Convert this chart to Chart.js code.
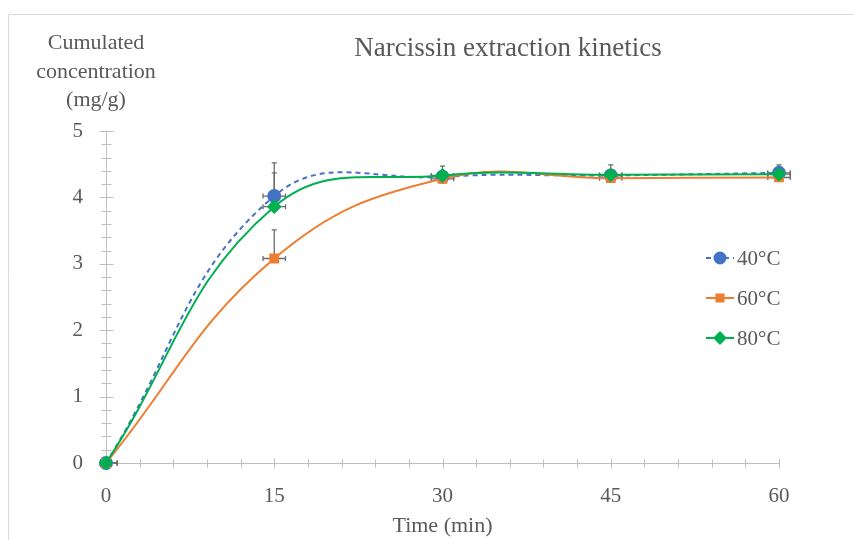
<!DOCTYPE html>
<html>
<head>
<meta charset="utf-8">
<script src="https://cdn.jsdelivr.net/npm/chart.js@4/dist/chart.umd.min.js"></script>
<style>
  body { margin: 0; background: #fff; }
</style>
</head>
<body>
<canvas id="chartKinetics" width="854" height="540"></canvas>
<script>
// data
const times = [0, 15, 30, 45, 60];
const conc40 = [0, 4.02, 4.31, 4.33, 4.37];
const conc60 = [0, 3.08, 4.28, 4.29, 4.30];
const conc80 = [0, 3.86, 4.33, 4.34, 4.35];
// error bars: y only upwards, x symmetric (min)
const err40 = [0, 0.50, 0.16, 0.16, 0.12];
const err60 = [0, 0.43, 0, 0, 0];
const err80 = [0, 0.51, 0, 0, 0];
const timeErr = [1, 1, 1, 1, 1];
const seriesLabels = ["40°C", "60°C", "80°C"];
const yTicks = [0, 1, 2, 3, 4, 5];
const xTicks = [0, 15, 30, 45, 60];
const chartTitle = "Narcissin extraction kinetics";
const yTitleLines = ["Cumulated", "concentration", "(mg/g)"];
const xTitle = "Time (min)";

const FONT = "'Liberation Serif', serif";
const TEXT = "#595959";
const AXIS = "#bfbfbf";

function pts(vals) {
  return times.map((t, i) => ({ x: t, y: vals[i] }));
}

const errorSets = [err40, err60, err80];

const errorBars = {
  id: 'errorBars',
  beforeDatasetsDraw(chart) {
    const { ctx, chartArea, scales } = chart;
    ctx.save();
    // only cut what falls left of the y axis
    ctx.beginPath();
    ctx.rect(chartArea.left, 0, chart.width - chartArea.left, chart.height);
    ctx.clip();
    ctx.strokeStyle = "#6b6b6b";
    ctx.lineWidth = 1.3;
    const cap = 2.5;
    chart.data.datasets.forEach((ds, d) => {
      const errs = errorSets[d];
      ds.data.forEach((p, i) => {
        const x = scales.x.getPixelForValue(p.x);
        const y = scales.y.getPixelForValue(p.y);
        const xl = scales.x.getPixelForValue(p.x - timeErr[i]);
        const xr = scales.x.getPixelForValue(p.x + timeErr[i]);
        ctx.beginPath();
        ctx.moveTo(xl, y); ctx.lineTo(xr, y);
        ctx.moveTo(xl, y - cap); ctx.lineTo(xl, y + cap);
        ctx.moveTo(xr, y - cap); ctx.lineTo(xr, y + cap);
        if (errs[i] > 0) {
          const yt = scales.y.getPixelForValue(p.y + errs[i]);
          ctx.moveTo(x, y); ctx.lineTo(x, yt);
          ctx.moveTo(x - cap, yt); ctx.lineTo(x + cap, yt);
        }
        ctx.stroke();
      });
    });
    ctx.restore();
  }
};

// tick marks crossing the axes, plus texts and legend
const decorations = {
  id: 'decorations',
  beforeDraw(chart) {
    const ctx = chart.ctx;
    ctx.save();
    ctx.strokeStyle = "#d9d9d9";
    ctx.lineWidth = 1;
    ctx.beginPath();
    ctx.moveTo(8.5, 540); ctx.lineTo(8.5, 14.5); ctx.lineTo(854, 14.5);
    ctx.stroke();
    ctx.restore();
  },
  beforeDatasetsDraw(chart) {
    const { ctx, scales } = chart;
    const xs = scales.x, ys = scales.y;
    ctx.save();
    ctx.strokeStyle = AXIS;
    ctx.lineWidth = 1;
    ctx.beginPath();
    const x0 = Math.round(xs.getPixelForValue(0)) + 0.5;
    for (let k = 0; k <= 25; k++) {
      const y = Math.round(ys.getPixelForValue(k / 5)) + 0.5;
      const len = k % 5 === 0 ? 7 : 5;
      ctx.moveTo(x0 - len, y); ctx.lineTo(x0 + len, y);
    }
    const y0 = Math.round(ys.getPixelForValue(0)) + 0.5;
    for (let k = 0; k <= 20; k++) {
      const x = Math.round(xs.getPixelForValue(k * 3)) + 0.5;
      const len = k % 5 === 0 ? 5 : 4;
      ctx.moveTo(x, y0 - len); ctx.lineTo(x, y0 + len);
    }
    ctx.stroke();
    ctx.restore();
  },
  afterDraw(chart) {
    const ctx = chart.ctx;
    ctx.save();
    ctx.fillStyle = TEXT;
    ctx.textAlign = "center";
    ctx.textBaseline = "alphabetic";
    ctx.font = "27px " + FONT;
    ctx.fillText(chartTitle, 508, 56);
    ctx.font = "22px " + FONT;
    yTitleLines.forEach((line, i) => ctx.fillText(line, 96, 49 + i * 28.5));

    // legend
    chart.data.datasets.forEach((ds, i) => {
      const cy = 258 + i * 40;
      ctx.save();
      ctx.strokeStyle = ds.borderColor;
      ctx.lineWidth = 2;
      ctx.setLineDash(ds.borderDash || []);
      ctx.beginPath();
      ctx.moveTo(706, cy); ctx.lineTo(734, cy);
      ctx.stroke();
      ctx.restore();
      ctx.fillStyle = ds.pointBackgroundColor;
      ctx.strokeStyle = ds.pointBorderColor;
      Chart.helpers.drawPoint(ctx, {
        pointStyle: ds.pointStyle, radius: ds.pointRadius - 0.5, rotation: 0, borderWidth: 1
      }, 720, cy);
      ctx.fillStyle = TEXT;
      ctx.textAlign = "left";
      ctx.textBaseline = "middle";
      ctx.font = "21px " + FONT;
      ctx.fillText(ds.label, 737, cy + 1);
    });
    ctx.restore();
  }
};

new Chart(document.getElementById('chartKinetics'), {
  type: 'line',
  data: {
    datasets: [
      {
        label: seriesLabels[0],
        data: pts(conc40),
        borderColor: "#4472C4",
        borderWidth: 2,
        borderDash: [5, 4],
        pointStyle: 'circle',
        pointRadius: 6,
        pointBackgroundColor: "#4472C4",
        pointBorderColor: "#4472C4",
        tension: 0.42,
        clip: false,
        order: 3
      },
      {
        label: seriesLabels[1],
        data: pts(conc60),
        borderColor: "#ED7D31",
        borderWidth: 2,
        pointStyle: 'rect',
        pointRadius: 5.5,
        pointBackgroundColor: "#ED7D31",
        pointBorderColor: "#ED7D31",
        tension: 0.42,
        clip: false,
        order: 2
      },
      {
        label: seriesLabels[2],
        data: pts(conc80),
        borderColor: "#00B050",
        borderWidth: 2,
        pointStyle: 'rectRot',
        pointRadius: 6,
        pointBackgroundColor: "#00B050",
        pointBorderColor: "#00B050",
        tension: 0.42,
        clip: false,
        order: 1
      }
    ]
  },
  options: {
    responsive: false,
    animation: false,
    layout: { padding: { top: 131, right: 75, left: 0, bottom: 0 } },
    plugins: {
      legend: { display: false },
      title: { display: false },
      tooltip: { enabled: false }
    },
    scales: {
      x: {
        type: 'linear',
        min: 0, max: 60,
        afterBuildTicks: (s) => { s.ticks = xTicks.map(v => ({ value: v })); },
        afterFit: (s) => { s.height = 77; },
        grid: { display: false },
        border: { display: true, color: AXIS, width: 1 },
        ticks: { color: TEXT, font: { family: FONT, size: 21 }, padding: 13, maxRotation: 0 },
        title: { display: true, text: xTitle, color: TEXT, font: { family: FONT, size: 22 }, padding: { top: 0, bottom: 1 } }
      },
      y: {
        min: 0, max: 5,
        afterBuildTicks: (s) => { s.ticks = yTicks.map(v => ({ value: v })); },
        afterFit: (s) => { s.width = 106; },
        grid: { display: false },
        border: { display: true, color: AXIS, width: 1 },
        ticks: { color: TEXT, font: { family: FONT, size: 21 }, padding: 15 }
      }
    }
  },
  plugins: [errorBars, decorations]
});
</script>
</body>
</html>
